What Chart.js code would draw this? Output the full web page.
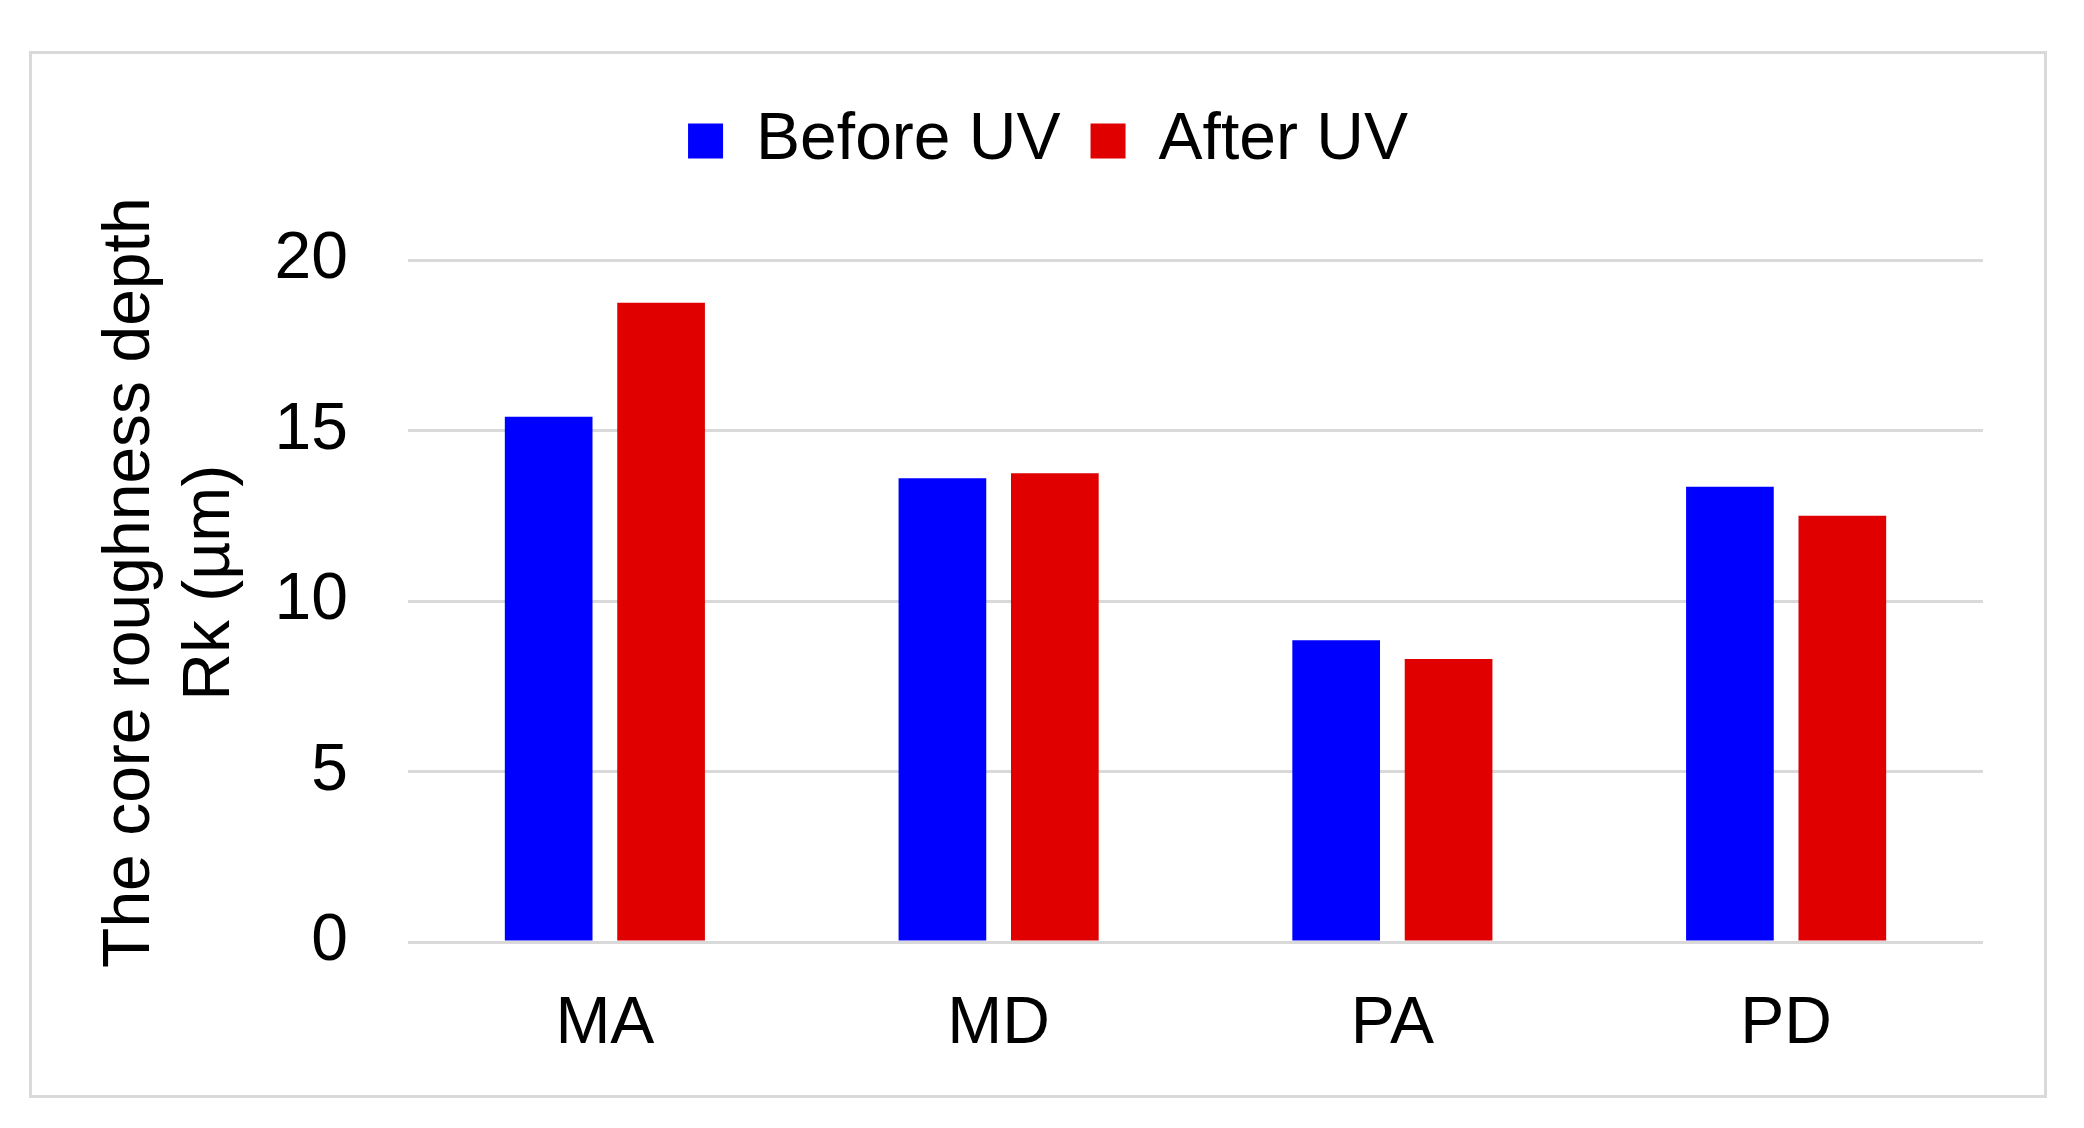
<!DOCTYPE html>
<html lang="en">
<head>
    <meta charset="UTF-8">
    <title>Core roughness depth Rk</title>
    <style>
        html, body {
            margin: 0;
            padding: 0;
            background: #ffffff;
            overflow: hidden;
        }

        #wrap {
            position: relative;
            width: 2084px;
            height: 1128px;
        }

        #frame {
            position: absolute;
            left: 29px;
            top: 51px;
            width: 2012px;
            height: 1041px;
            border: 3px solid #d9d9d9;
            pointer-events: none;
        }
    </style>
</head>
<body>
    <div id="wrap">
        <canvas id="rkChart" width="2084" height="1128"></canvas>
        <div id="frame"></div>
    </div>

    <script src="https://cdn.jsdelivr.net/npm/chart.js"></script>
    <script>
        // data
        const categories = ['MA', 'MD', 'PA', 'PD'];
        const beforeUV = [15.4, 13.6, 8.85, 13.35];
        const afterUV = [18.75, 13.75, 8.3, 12.5];
        const seriesNames = ['Before UV', 'After UV'];
        // leading nbsp nudges the rotated title a bit upwards, like the original
        const yTitle = ['\u00a0\u00a0The core roughness depth', '\u00a0\u00a0Rk (\u00b5m)'];

        const fontFamily = '"Liberation Sans", Arial, sans-serif';

        // extra room under the legend, so the plot starts lower
        const legendGap = {
            id: 'legendGap',
            beforeLayout(chart) {
                const lg = chart.legend;
                if (!lg || lg._gapDone) return;
                const fit = lg.fit;
                lg.fit = function () {
                    fit.call(this);
                    this.height += 76;
                };
                lg._gapDone = true;
            }
        };

        const ctx = document.getElementById('rkChart').getContext('2d');

        new Chart(ctx, {
            type: 'bar',
            data: {
                labels: categories,
                datasets: [
                    {
                        label: seriesNames[0],
                        data: beforeUV,
                        backgroundColor: '#0000ff',
                        borderWidth: 0
                    },
                    {
                        label: seriesNames[1],
                        data: afterUV,
                        backgroundColor: '#e00000',
                        borderWidth: 0
                    }
                ]
            },
            options: {
                responsive: false,
                animation: false,
                devicePixelRatio: 1,
                categoryPercentage: 0.571,
                barPercentage: 0.78,
                layout: {
                    padding: { left: 113, right: 101, top: 78, bottom: 0 }
                },
                plugins: {
                    tooltip: { enabled: false },
                    legend: {
                        position: 'top',
                        labels: {
                            color: '#000000',
                            font: { family: fontFamily, size: 66 },
                            boxWidth: 35,
                            boxHeight: 35,
                            padding: 30
                        }
                    }
                },
                scales: {
                    x: {
                        grid: { display: false },
                        border: { display: false },
                        ticks: {
                            color: '#000000',
                            font: { family: fontFamily, size: 66 },
                            padding: 35
                        },
                        afterFit: function (scale) {
                            scale.height = 186;
                        }
                    },
                    y: {
                        min: 0,
                        max: 20,
                        border: { display: false },
                        grid: {
                            color: '#d9d9d9',
                            lineWidth: 3,
                            drawTicks: false
                        },
                        ticks: {
                            stepSize: 5,
                            color: '#000000',
                            font: { family: fontFamily, size: 66 },
                            padding: 60
                        },
                        title: {
                            display: true,
                            text: yTitle,
                            color: '#000000',
                            font: { family: fontFamily, size: 66, lineHeight: 1.21 },
                            padding: { top: -22, bottom: 0 }
                        },
                        afterFit: function (scale) {
                            scale.width = 295;
                        }
                    }
                }
            },
            plugins: [legendGap]
        });
    </script>
</body>
</html>
